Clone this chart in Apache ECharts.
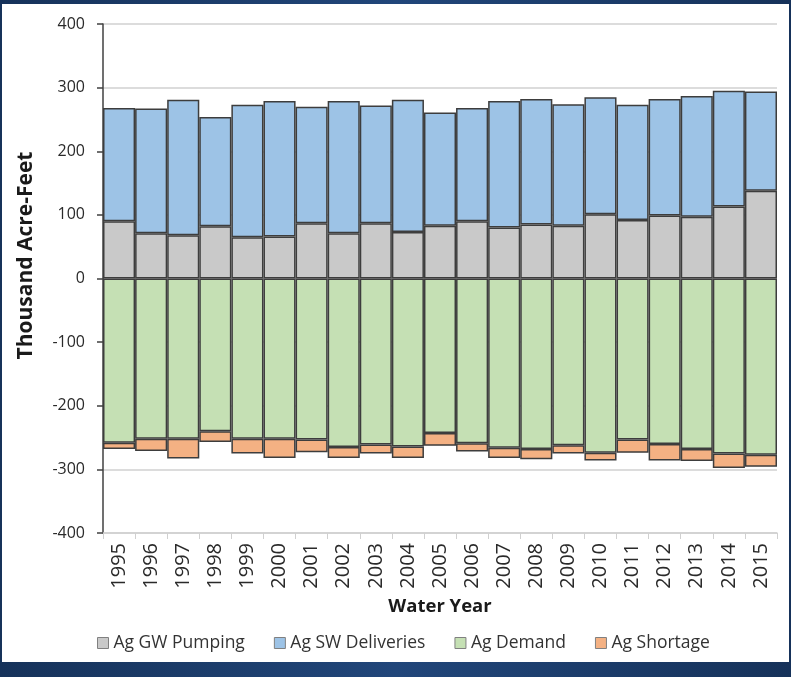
<!DOCTYPE html>
<html>
<head>
<meta charset="utf-8">
<script src="https://cdn.jsdelivr.net/npm/echarts@6/dist/echarts.min.js"></script>
<style>
  html, body { margin: 0; padding: 0; width: 791px; height: 677px; overflow: hidden;
    background: linear-gradient(90deg, #16325a, #21467a 50%, #16325a); }
  #panel { position: absolute; left: 2px; top: 4px; width: 787px; height: 658px; background: #ffffff; }
  #chart { position: absolute; left: 0; top: 0; width: 791px; height: 677px; }
</style>
</head>
<body>
<div id="panel"></div>
<div id="chart"></div>
<script>
const years = ['1995','1996','1997','1998','1999','2000','2001','2002','2003','2004','2005',
               '2006','2007','2008','2009','2010','2011','2012','2013','2014','2015'];
const agGwPumping    = [90, 71, 68, 82, 65, 66, 87, 71, 87, 73, 83, 90, 80, 85, 83, 101, 92, 99, 97, 113, 138];
const agSwDeliveries = [178, 196, 213, 172, 208, 213, 183, 208, 185, 208, 178, 178, 199, 197, 191, 184, 181, 183, 190, 182, 156];
const agDemand       = [-258, -252, -252, -240, -252, -252, -253, -265, -261, -264, -243, -259, -266, -268, -262, -274, -253, -260, -268, -275, -277];
const agShortage     = [-10, -19, -31, -17, -23, -30, -20, -17, -14, -18, -20, -13, -16, -16, -13, -12, -21, -26, -19, -23, -19];
const yTicks = { min: -400, max: 400, interval: 100 };

const FONT = '"Open Sans", "Noto Sans", sans-serif';
const border = { borderColor: '#3d3d3d', borderWidth: 1.5 };

function bar(name, data, color) {
  return {
    name: name, type: 'bar', stack: 'total', data: data,
    barCategoryGap: 0, barGap: 0,
    itemStyle: Object.assign({ color: color }, border),
    emphasis: { disabled: true }
  };
}

const chart = echarts.init(document.getElementById('chart'), null, { renderer: 'canvas' });
chart.setOption({
  backgroundColor: 'transparent',
  animation: false,
  textStyle: { fontFamily: FONT },
  grid: { left: 103, right: 14, top: 24, bottom: 144, containLabel: false },
  legend: {
    bottom: 20, left: 92,
    itemWidth: 11, itemHeight: 11, itemGap: 29,
    icon: 'rect',
    itemStyle: { borderColor: '#808080', borderWidth: 1 },
    textStyle: { fontFamily: FONT, fontSize: 17.5, color: '#333' },
    data: ['Ag GW Pumping', 'Ag SW Deliveries', 'Ag Demand', 'Ag Shortage']
  },
  xAxis: {
    type: 'category', data: years,
    name: 'Water Year', nameLocation: 'middle', nameGap: 64,
    nameTextStyle: { fontFamily: FONT, fontSize: 18.5, fontWeight: 'bold', color: '#1a1a1a' },
    axisLine: { onZero: false, lineStyle: { color: '#d0d0d0', width: 1.5 } },
    axisTick: { show: true, length: 6, lineStyle: { color: '#d0d0d0' } },
    axisLabel: { rotate: 90, fontFamily: FONT, fontSize: 20, color: '#2a2a2a', margin: 10 }
  },
  yAxis: {
    type: 'value', min: yTicks.min, max: yTicks.max, interval: yTicks.interval,
    name: 'Thousand Acre-Feet', nameLocation: 'middle', nameGap: 66,
    nameTextStyle: { fontFamily: FONT, fontSize: 21, fontWeight: 'bold', color: '#1a1a1a',
                     padding: [0, 0, 0, 46] },
    axisLine: { show: true, lineStyle: { color: '#404040', width: 1.5 } },
    axisTick: { show: true, length: 6, lineStyle: { color: '#404040', width: 1.5 } },
    axisLabel: { fontFamily: FONT, fontSize: 16, color: '#2a2a2a', margin: 18 },
    splitLine: { show: true, lineStyle: { color: '#dcdcdc', width: 2 } }
  },
  series: [
    bar('Ag GW Pumping', agGwPumping, '#c9c9c9'),
    bar('Ag SW Deliveries', agSwDeliveries, '#9dc3e6'),
    bar('Ag Demand', agDemand, '#c5e0b4'),
    bar('Ag Shortage', agShortage, '#f4b183')
  ]
});
</script>
</body>
</html>
